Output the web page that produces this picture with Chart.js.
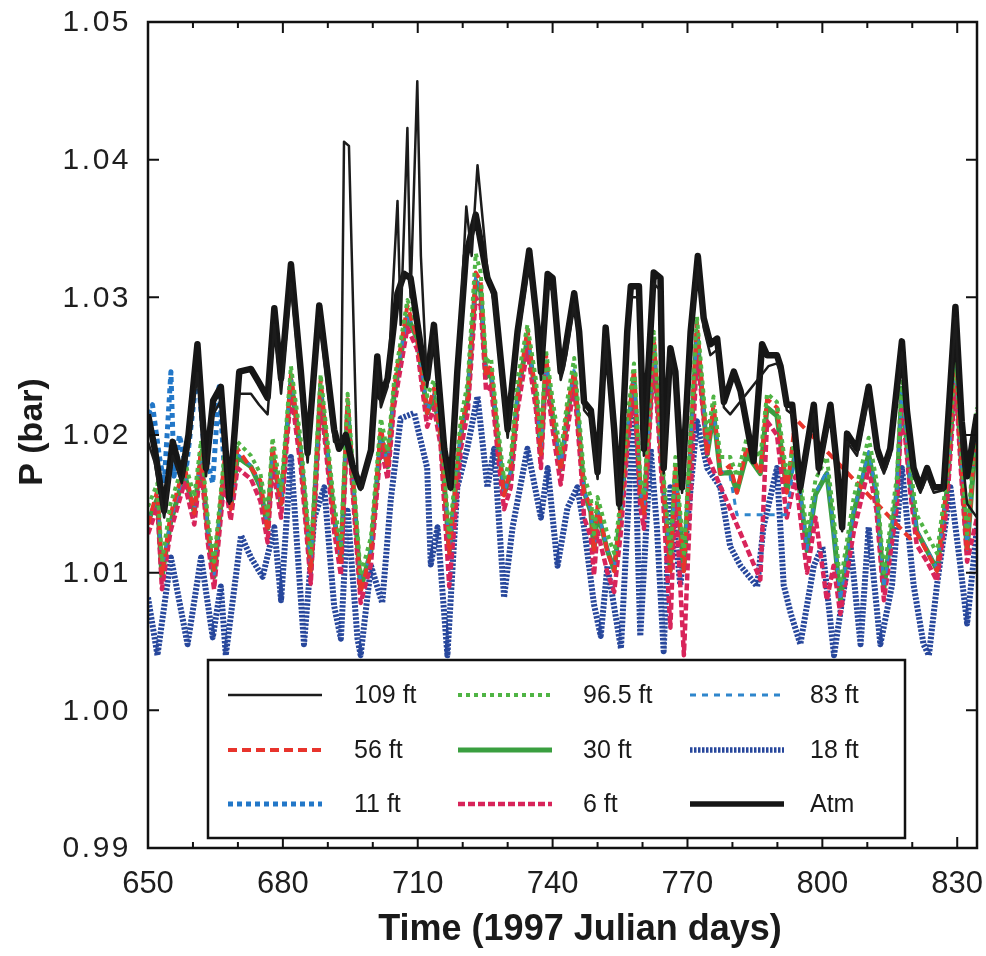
<!DOCTYPE html>
<html>
<head>
<meta charset="utf-8">
<title>P vs time</title>
<script src="https://cdn.jsdelivr.net/npm/chart.js@4.4.1/dist/chart.umd.min.js"></script>
<style>
  body { margin: 0; background: #fff; }
  #wrap { width: 986px; height: 956px; }
</style>
</head>
<body>
<div id="wrap"><canvas id="pChart" width="986" height="956"></canvas></div>
<script>
// ------------------- DATA -------------------
const xTicks = [650, 680, 710, 740, 770, 800, 830];
const yTicks = [0.99, 1.00, 1.01, 1.02, 1.03, 1.04, 1.05];
const xTitle = 'Time (1997 Julian days)';
const yTitle = 'P (bar)';

// Atm (barometric)
const atmDays = [650, 651.5, 653.6, 655.5, 657.5, 659, 661, 662.9, 664.5, 666.2,
  668.1, 670.3, 672.9, 674.7, 676.6, 678.1, 679.6, 681.8, 684, 685.5,
  688.1, 689.9, 691.4, 692.5, 694, 695.5, 697.3, 699.6, 701, 701.8,
  703.3, 705.5, 707, 708.4, 710.7, 712.1, 713.6, 715.9, 717.3, 718.8,
  720.7, 722.9, 725.5, 727, 727.7, 730, 732.2, 734.8, 736.6, 737.4,
  738.9, 740, 741.8, 742.6, 744.8, 745.9, 747, 748.5, 750, 751.8,
  753.7, 754.8, 756.6, 757.4, 759.2, 760.3, 762.5, 764, 764.7, 766.2,
  767.3, 768.8, 770.7, 772.3, 773.6, 775.1, 776.6, 778.1, 780.3, 781.8,
  784.7, 786.6, 787.7, 789.9, 790.7, 792.1, 793.3, 795.1, 798.1, 799.2,
  801.8, 803.3, 804.4, 805.5, 807.7, 810.3, 812.2, 813.7, 815.1, 817.7,
  818.8, 820.3, 821.8, 823.3, 824.8, 827, 829.6, 831, 832.2, 834.4];
const atmP = [1.0215, 1.0190, 1.0145, 1.0195, 1.0170, 1.0200, 1.0266, 1.0176, 1.0225, 1.0235,
  1.0153, 1.0246, 1.0248, 1.0238, 1.0227, 1.0292, 1.0241, 1.0324, 1.0246, 1.0187,
  1.0294, 1.0246, 1.0204, 1.0190, 1.0200, 1.0178, 1.0162, 1.0189, 1.0257, 1.0227,
  1.0241, 1.0303, 1.0317, 1.0314, 1.0264, 1.0241, 1.0280, 1.0190, 1.0162, 1.0246,
  1.0330, 1.0360, 1.0314, 1.0303, 1.0280, 1.0204, 1.0275, 1.0334, 1.0280, 1.0246,
  1.0317, 1.0314, 1.0246, 1.0258, 1.0303, 1.0275, 1.0224, 1.0218, 1.0173, 1.0278,
  1.0204, 1.0150, 1.0275, 1.0308, 1.0308, 1.0190, 1.0318, 1.0314, 1.0176, 1.0263,
  1.0246, 1.0162, 1.0275, 1.0330, 1.0285, 1.0266, 1.0270, 1.0224, 1.0246, 1.0232,
  1.0181, 1.0266, 1.0258, 1.0258, 1.0250, 1.0222, 1.0222, 1.0162, 1.0222, 1.0176,
  1.0222, 1.0176, 1.0133, 1.0201, 1.0190, 1.0235, 1.0190, 1.0176, 1.0190, 1.0268,
  1.0218, 1.0176, 1.0162, 1.0176, 1.0162, 1.0162, 1.0293, 1.0210, 1.0170, 1.0215];

// 109 ft
const days109 = [650, 651.5, 653.6, 655.5, 657.5, 659, 661, 662.9, 664.5, 666.2,
  668.1, 670.3, 672.9, 674.7, 676.6, 678.1, 679.6, 681.8, 684, 685.5,
  688.1, 689.9, 691.4, 692.9, 693.6, 694.7, 696.6, 697.3, 699.6, 701,
  701.8, 703.3, 705.5, 706.2, 707.7, 708.4, 709.9, 710.7, 712.1, 713.6,
  715.9, 717.3, 718.8, 720.8, 722, 723.3, 725.5, 727, 727.7, 730,
  732.2, 734.8, 736.6, 737.4, 738.9, 740, 741.8, 742.6, 744.8, 745.9,
  747, 748.5, 750, 751.8, 753.7, 754.8, 756.6, 757.4, 759.2, 760.3,
  762.5, 764, 764.7, 766.2, 767.3, 768.8, 770.7, 772.3, 773.6, 775.1,
  776.6, 778.1, 779.5, 788, 789.9, 790.7, 792.1, 793.3, 795.1, 798.1,
  799.2, 801.8, 803.3, 804.4, 805.5, 807.7, 810.3, 812.2, 813.7, 815.1,
  817.7, 818.8, 820.3, 821.8, 823.3, 824.8, 827, 829.6, 831, 832.2,
  834.4];
const p109 = [1.0195, 1.0180, 1.0140, 1.0185, 1.0165, 1.0190, 1.0245, 1.0170, 1.0215, 1.0225,
  1.0150, 1.0230, 1.0230, 1.0222, 1.0215, 1.0280, 1.0230, 1.0310, 1.0235, 1.0180,
  1.0285, 1.0235, 1.0195, 1.0195, 1.0413, 1.0410, 1.0170, 1.0160, 1.0185, 1.0250,
  1.0220, 1.0235, 1.0370, 1.0280, 1.0423, 1.0300, 1.0457, 1.0330, 1.0235, 1.0272,
  1.0185, 1.0160, 1.0240, 1.0366, 1.0330, 1.0396, 1.0320, 1.0295, 1.0272, 1.0198,
  1.0268, 1.0325, 1.0272, 1.0240, 1.0308, 1.0305, 1.0240, 1.0250, 1.0295, 1.0268,
  1.0218, 1.0212, 1.0168, 1.0270, 1.0198, 1.0146, 1.0268, 1.0300, 1.0300, 1.0185,
  1.0310, 1.0305, 1.0172, 1.0256, 1.0240, 1.0158, 1.0268, 1.0322, 1.0278, 1.0258,
  1.0262, 1.0220, 1.0215, 1.0250, 1.0252, 1.0245, 1.0218, 1.0215, 1.0158, 1.0215,
  1.0172, 1.0215, 1.0170, 1.0130, 1.0195, 1.0185, 1.0228, 1.0185, 1.0172, 1.0185,
  1.0260, 1.0212, 1.0170, 1.0158, 1.0170, 1.0158, 1.0160, 1.0285, 1.0190, 1.0150,
  1.0140];

// mid-depth wells share one time base (null = no reading)
const midDays = [650, 652.1, 653.1, 655, 658.1, 660.3, 661.8, 663.3, 664.7, 667,
  668.4, 669.9, 672.9, 675, 676.6, 677.7, 679.6, 681.8, 684, 686.2,
  688.4, 691.4, 692.9, 694.4, 697.3, 699.6, 701.8, 703.3, 704.7, 707.7,
  709.9, 712.1, 713.6, 715.1, 717, 719.6, 721.1, 722.9, 724, 725.2,
  726.3, 727.7, 729.2, 730.7, 732.2, 734.4, 736.3, 737.4, 738.5, 740,
  741.8, 743.3, 744.8, 746.3, 747, 748.5, 749.2, 750, 752.2, 753.7,
  755.2, 756.6, 758.1, 759.5, 760.3, 762.5, 764.7, 766.2, 767.3, 769.2,
  772.1, 774.4, 775.8, 777.3, 779.5, 781, 783.2, 786.2, 787.7, 789.9,
  792.1, 794, 796.6, 798.5, 801, 802.5, 804, 807, 810.3, 812,
  813.7, 816.6, 817.7, 819.5, 821, 823.3, 825.5, 827.7, 829.6, 830.8,
  832.2, 834.4];
const p96 = [1.0148, 1.0165, 1.0108, 1.0150, 1.0182, 1.0155, 1.0196, 1.0140, 1.0108, 1.0186,
  1.0158, 1.0195, 1.0185, 1.0172, 1.0142, 1.0198, 1.0160, 1.0250, 1.0196, 1.0112,
  1.0244, 1.0150, 1.0120, 1.0230, 1.0098, 1.0126, 1.0212, 1.0188, 1.0238, 1.0298,
  1.0280, 1.0228, 1.0240, 1.0210, 1.0126, 1.0212, 1.0238, 1.0332, 1.0318, 1.0252,
  1.0256, 1.0210, 1.0168, 1.0184, 1.0240, 1.0280, 1.0240, 1.0198, 1.0262, 1.0226,
  1.0186, 1.0226, 1.0256, 1.0198, 1.0170, 1.0155, 1.0128, 1.0155, 1.0128, 1.0114,
  1.0155, 1.0212, 1.0252, 1.0170, 1.0156, 1.0275, 1.0170, 1.0114, 1.0184, 1.0114,
  1.0286, 1.0198, 1.0228, 1.0184, 1.0184, 1.0170, 1.0198, 1.0184, 1.0230, 1.0224,
  1.0170, 1.0198, 1.0128, 1.0168, 1.0184, 1.0142, 1.0092, 1.0155, 1.0198, 1.0168,
  1.0100, 1.0170, 1.0244, 1.0178, 1.0142, 1.0128, 1.0114, 1.0170, 1.0260, 1.0198,
  1.0128, 1.0220];
const p83 = [1.0138, 1.0155, 1.0102, 1.0138, 1.0174, 1.0145, 1.0186, 1.0131, 1.0098, 1.0178,
  1.0148, 1.0186, 1.0178, 1.0163, 1.0133, 1.0188, 1.0151, 1.0242, 1.0188, 1.0103,
  1.0236, 1.0141, 1.0110, 1.0222, 1.0089, 1.0117, 1.0202, 1.0178, 1.0230, 1.0288,
  1.0272, 1.0218, 1.0230, 1.0202, 1.0117, 1.0202, 1.0228, 1.0316, 1.0306, 1.0244,
  1.0247, 1.0202, 1.0158, 1.0174, 1.0230, 1.0272, 1.0230, 1.0188, 1.0254, 1.0216,
  1.0176, 1.0216, 1.0248, 1.0188, 1.0160, 1.0145, 1.0117, 1.0145, 1.0117, 1.0103,
  1.0145, 1.0202, 1.0244, 1.0160, 1.0145, 1.0266, 1.0160, 1.0103, 1.0174, 1.0103,
  1.0276, 1.0188, 1.0218, 1.0174, 1.0170, 1.0142, null, null, null, null,
  1.0142, 1.0188, 1.0117, 1.0158, 1.0174, 1.0131, 1.0080, 1.0145, 1.0188, 1.0158,
  1.0089, 1.0160, 1.0236, 1.0168, 1.0131, 1.0117, 1.0103, 1.0160, 1.0252, 1.0188,
  1.0117, 1.0212];
const p56 = [1.0135, 1.0160, 1.0098, 1.0142, 1.0178, 1.0143, 1.0190, 1.0130, 1.0102, 1.0182,
  1.0146, 1.0190, 1.0176, 1.0167, 1.0130, 1.0192, 1.0150, 1.0244, 1.0186, 1.0100,
  1.0240, 1.0140, 1.0108, 1.0226, 1.0086, 1.0115, 1.0206, 1.0176, 1.0234, 1.0294,
  1.0270, 1.0216, 1.0234, 1.0200, 1.0114, 1.0206, 1.0226, 1.0318, 1.0312, 1.0242,
  1.0251, 1.0200, 1.0156, 1.0178, 1.0228, 1.0277, 1.0228, 1.0186, 1.0259, 1.0214,
  1.0174, 1.0220, 1.0246, 1.0186, 1.0158, 1.0149, 1.0115, 1.0149, 1.0115, 1.0101,
  1.0149, 1.0200, 1.0248, 1.0158, 1.0143, 1.0271, 1.0158, 1.0101, 1.0178, 1.0101,
  1.0282, 1.0186, 1.0222, 1.0172, 1.0178, 1.0158, 1.0192, 1.0172, 1.0226, 1.0220,
  1.0158, 1.0212, null, null, null, null, null, null, null, null,
  null, null, null, 1.0125, 1.0129, 1.0115, 1.0101, 1.0164, 1.0258, 1.0186,
  1.0115, 1.0218];
const p30 = [1.0137, 1.0154, 1.0097, 1.0136, 1.0172, 1.0144, 1.0184, 1.0130, 1.0097, 1.0176,
  1.0147, 1.0184, 1.0177, 1.0162, 1.0132, 1.0186, 1.0150, 1.0240, 1.0186, 1.0102,
  1.0234, 1.0140, 1.0109, 1.0220, 1.0088, 1.0116, 1.0200, 1.0177, 1.0228, 1.0286,
  1.0270, 1.0216, 1.0228, 1.0200, 1.0116, 1.0200, 1.0226, 1.0312, 1.0304, 1.0242,
  1.0245, 1.0200, 1.0157, 1.0172, 1.0228, 1.0270, 1.0228, 1.0186, 1.0252, 1.0214,
  1.0175, 1.0214, 1.0245, 1.0186, 1.0159, 1.0144, 1.0116, 1.0144, 1.0116, 1.0102,
  1.0144, 1.0200, 1.0242, 1.0159, 1.0144, 1.0264, 1.0159, 1.0102, 1.0172, 1.0102,
  1.0274, 1.0186, 1.0216, 1.0172, 1.0173, 1.0159, 1.0186, 1.0172, 1.0220, 1.0214,
  1.0159, 1.0186, 1.0116, 1.0157, 1.0172, 1.0130, 1.0080, 1.0144, 1.0186, 1.0157,
  1.0089, 1.0159, 1.0234, 1.0167, 1.0130, 1.0116, 1.0102, 1.0159, 1.0250, 1.0186,
  1.0116, 1.0210];
const p6 = [1.0128, 1.0148, 1.0088, 1.0130, 1.0165, 1.0135, 1.0178, 1.0122, 1.0088, 1.0168,
  1.0138, 1.0176, 1.0168, 1.0152, 1.0122, 1.0178, 1.0140, 1.0232, 1.0176, 1.0092,
  1.0226, 1.0130, 1.0098, 1.0210, 1.0078, 1.0106, 1.0192, 1.0168, 1.0220, 1.0278,
  1.0262, 1.0206, 1.0220, 1.0192, 1.0090, 1.0190, 1.0216, 1.0300, 1.0294, 1.0232,
  1.0236, 1.0190, 1.0146, 1.0162, 1.0218, 1.0262, 1.0218, 1.0176, 1.0244, 1.0204,
  1.0164, 1.0204, 1.0236, 1.0176, 1.0140, 1.0126, 1.0098, 1.0130, 1.0100, 1.0086,
  1.0130, 1.0190, 1.0234, 1.0148, 1.0132, 1.0256, 1.0146, 1.0060, 1.0160, 1.0040,
  1.0262, 1.0185, null, null, null, null, null, 1.0095, 1.0210, 1.0200,
  1.0140, 1.0170, 1.0100, 1.0140, 1.0080, 1.0105, 1.0070, 1.0130, 1.0176, 1.0146,
  1.0080, 1.0148, 1.0224, 1.0160, 1.0120, 1.0108, 1.0094, 1.0148, 1.0240, 1.0175,
  1.0108, 1.0140];

// 18 ft
const days18 = [650, 652.1, 655.1, 658.8, 661.8, 664.4, 666.2, 667.3, 670.7, 672.9,
  675.5, 678.1, 679.6, 681.8, 684.7, 687, 689.2, 691.4, 692.9, 694.4,
  696.6, 697.3, 699.6, 702.1, 704, 706.2, 709.2, 712.1, 712.9, 714.4,
  716.6, 718.8, 721, 723.3, 725.5, 727, 729.2, 731.1, 734.4, 737.4,
  738.9, 741.1, 743.3, 745.5, 747, 749.2, 750.7, 752.2, 755.2, 756.6,
  758.1, 759.5, 761.8, 763.2, 764.7, 766.2, 768.4, 769.9, 772.1, 774.4,
  777.3, 779.5, 781.8, 785.5, 786.9, 789.9, 791.4, 793, 795.1, 798.1,
  800, 802.6, 804.5, 806.3, 808.5, 810.3, 812.9, 815.5, 817.7, 820.3,
  822.5, 823.7, 825.5, 828.5, 830.7, 832.2, 834.4];
const p18 = [1.0082, 1.0040, 1.0111, 1.0048, 1.0111, 1.0053, 1.0090, 1.0040, 1.0127, 1.0111,
  1.0097, 1.0133, 1.0080, 1.0184, 1.0048, 1.0140, 1.0162, 1.0076, 1.0052, 1.0145,
  1.0052, 1.0040, 1.0105, 1.0078, 1.0153, 1.0212, 1.0216, 1.0176, 1.0106, 1.0133,
  1.0040, 1.0162, 1.0190, 1.0228, 1.0162, 1.0190, 1.0082, 1.0133, 1.0190, 1.0140,
  1.0176, 1.0105, 1.0147, 1.0162, 1.0133, 1.0077, 1.0054, 1.0105, 1.0045, 1.0133,
  1.0218, 1.0054, 1.0190, 1.0133, 1.0043, 1.0162, 1.0091, 1.0133, 1.0210, 1.0176,
  1.0162, 1.0119, 1.0105, 1.0090, 1.0133, 1.0176, 1.0091, 1.0070, 1.0048, 1.0105,
  1.0119, 1.0040, 1.0082, 1.0119, 1.0048, 1.0133, 1.0048, 1.0091, 1.0176, 1.0091,
  1.0048, 1.0040, 1.0091, 1.0162, 1.0105, 1.0063, 1.0133];

// 11 ft (record only at the start)
const days11 = [650, 651, 652.5, 653.6, 655.1, 655.8, 657, 658.5, 661, 662.5, 664.4, 665.8, 667.3, 668.4];
const p11 = [1.0215, 1.0222, 1.0185, 1.0165, 1.0246, 1.0170, 1.0200, 1.0175, 1.0248, 1.0190, 1.0165, 1.0235, 1.0160, 1.0150];

// ------------------- HELPERS -------------------
function pts(days, vals) {
  return days.map((d, i) => ({ x: d, y: vals[i] }));
}

const SANS = '"Liberation Sans", Arial, sans-serif';

// legend order: row by row
const datasets = [
  { label: '109 ft', data: pts(days109, p109), borderColor: '#1c1c1c', borderWidth: 2.5, order: 1 },
  { label: '96.5 ft', data: pts(midDays, p96), borderColor: '#4fb444', borderWidth: 4, borderDash: [4, 4], order: 3 },
  { label: '83 ft', data: pts(midDays, p83), borderColor: '#2f86cc', borderWidth: 3, borderDash: [6, 6], order: 5 },
  { label: '56 ft', data: pts(midDays, p56), borderColor: '#e8342c', borderWidth: 4, borderDash: [9, 5], order: 4 },
  { label: '30 ft', data: pts(midDays, p30), borderColor: '#3a9f40', borderWidth: 5, order: 7 },
  { label: '18 ft', data: pts(days18, p18), borderColor: '#27479c', borderWidth: 6, borderDash: [2.5, 1.5], order: 9 },
  { label: '11 ft', data: pts(days11, p11), borderColor: '#2277c8', borderWidth: 5, borderDash: [5, 4], order: 8 },
  { label: '6 ft', data: pts(midDays, p6), borderColor: '#d8245a', borderWidth: 4.5, borderDash: [7, 3], order: 6 },
  { label: 'Atm', data: pts(atmDays, atmP), borderColor: '#161616', borderWidth: 6.5, order: 2 }
];
datasets.forEach(ds => {
  ds.fill = false;
  ds.pointRadius = 0;
  ds.tension = 0;
  ds.spanGaps = true;
  ds.borderCapStyle = 'butt';
  ds.borderJoinStyle = 'round';
});

// ------------------- FRAME, TICKS, LEGEND, TITLES -------------------
const framePlugin = {
  id: 'frame',
  afterDatasetsDraw(chart) {
    const { ctx, chartArea: a, scales: { x, y } } = chart;
    ctx.save();

    // legend box
    const bx = 208, by = 660, bw = 697, bh = 178;
    ctx.fillStyle = '#fff';
    ctx.fillRect(bx, by, bw, bh);
    ctx.strokeStyle = '#111';
    ctx.lineWidth = 2.5;
    ctx.setLineDash([]);
    ctx.strokeRect(bx, by, bw, bh);

    const lineX = [228, 458, 690];
    const textX = [354, 583, 810];
    const rowY = [695, 750, 804];
    ctx.font = '25px ' + SANS;
    ctx.textBaseline = 'middle';
    ctx.textAlign = 'left';
    chart.data.datasets.forEach((ds, i) => {
      const col = i % 3, row = Math.floor(i / 3);
      ctx.strokeStyle = ds.borderColor;
      ctx.lineWidth = Math.min(ds.borderWidth, 5.5);
      ctx.lineCap = 'butt';
      ctx.setLineDash(ds.borderDash || []);
      ctx.beginPath();
      ctx.moveTo(lineX[col], rowY[row]);
      ctx.lineTo(lineX[col] + 94, rowY[row]);
      ctx.stroke();
      ctx.fillStyle = '#1a1a1a';
      ctx.fillText(ds.label, textX[col], rowY[row] + 1);
    });

    // plot frame
    ctx.setLineDash([]);
    ctx.strokeStyle = '#111';
    ctx.lineWidth = 2.5;
    ctx.strokeRect(a.left, a.top, a.right - a.left, a.bottom - a.top);

    // inward ticks
    ctx.lineWidth = 2;
    ctx.beginPath();
    yTicks.forEach(v => {
      const py = y.getPixelForValue(v);
      ctx.moveTo(a.left, py); ctx.lineTo(a.left + 11, py);
      ctx.moveTo(a.right, py); ctx.lineTo(a.right - 11, py);
    });
    for (let d = x.min; d <= x.max; d += 10) {
      const px = x.getPixelForValue(d);
      const len = (d - x.min) % 30 === 0 ? 11 : 6;
      ctx.moveTo(px, a.bottom); ctx.lineTo(px, a.bottom - len);
      ctx.moveTo(px, a.top); ctx.lineTo(px, a.top + len);
    }
    ctx.stroke();

    // y tick labels (spaced out like the original)
    ctx.fillStyle = '#1e1e1e';
    ctx.font = '30px ' + SANS;
    ctx.textAlign = 'right';
    ctx.textBaseline = 'middle';
    ctx.letterSpacing = '2.5px';
    yTicks.forEach(v => {
      ctx.fillText(v.toFixed(2), 131, y.getPixelForValue(v) + 1);
    });
    ctx.letterSpacing = '0px';

    // axis titles
    ctx.fillStyle = '#1a1a1a';
    ctx.font = 'bold 36px ' + SANS;
    ctx.textAlign = 'center';
    ctx.fillText(xTitle, 580, 930);
    ctx.translate(33, 432);
    ctx.rotate(-Math.PI / 2);
    ctx.font = 'bold 34px ' + SANS;
    ctx.fillText(yTitle, 0, 0);
    ctx.restore();
  }
};

// ------------------- CHART -------------------
new Chart(document.getElementById('pChart'), {
  type: 'line',
  data: { datasets },
  options: {
    responsive: false,
    animation: false,
    layout: { padding: { left: 0, top: 22, right: 9, bottom: 0 } },
    plugins: { legend: { display: false }, tooltip: { enabled: false } },
    scales: {
      x: {
        type: 'linear',
        min: 650,
        max: 834.4,
        grid: { display: false, drawTicks: false, tickLength: 0 },
        border: { display: false },
        afterBuildTicks: s => { s.ticks = xTicks.map(v => ({ value: v })); },
        afterFit: s => { s.height = 108; s.paddingLeft = 0; s.paddingRight = 0; },
        ticks: { padding: 18, color: '#1e1e1e', autoSkip: false, maxRotation: 0, font: { family: SANS, size: 31 } },
        title: { display: false }
      },
      y: {
        min: 0.99,
        max: 1.05,
        grid: { display: false, drawTicks: false, tickLength: 0 },
        border: { display: false },
        afterBuildTicks: s => { s.ticks = yTicks.map(v => ({ value: v })); },
        afterFit: s => { s.width = 148; s.paddingTop = 0; s.paddingBottom = 0; },
        ticks: { display: false },
        title: { display: false }
      }
    }
  },
  plugins: [framePlugin]
});
</script>
</body>
</html>
